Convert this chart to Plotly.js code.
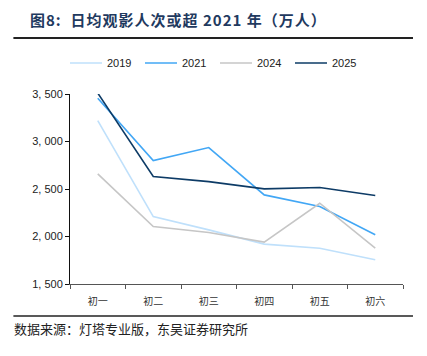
<!DOCTYPE html>
<html><head><meta charset="utf-8">
<script src="https://cdn.plot.ly/plotly-3.0.1.min.js"></script>
<style>body{margin:0;background:#fff}#c{width:427px;height:356px}</style>
</head><body><div id="c"></div>
<script>
const categories = ['初一','初二','初三','初四','初五','初六'];
const s2019 = [3220, 2210, 2070, 1920, 1877, 1755];
const s2021 = [3455, 2799, 2936, 2438, 2316, 2018];
const s2024 = [2659, 2105, 2042, 1941, 2350, 1877];
const s2025 = [3510, 2631, 2578, 2501, 2515, 2431];
const yTicks = [1500, 2000, 2500, 3000, 3500];
const yTickText = ['1, 500', '2, 000', '2, 500', '3, 000', '3, 500'];

const mk = (name, y, color) => ({x: categories, y: y, name: name, type: 'scatter', mode: 'lines',
  line: {color: color, width: 1.6}, cliponaxis: false});
const data = [
  mk('2019', s2019, '#BFE0FB'),
  mk('2021', s2021, '#42A7F5'),
  mk('2024', s2024, '#C6C6C6'),
  mk('2025', s2025, '#0D3B66')
];
const layout = {
  width: 427, height: 356,
  margin: {l: 70, r: 24, t: 94, b: 72},
  paper_bgcolor: '#fff', plot_bgcolor: '#fff',
  font: {family: 'Liberation Sans, Arial, sans-serif', color: '#222', size: 11},
  showlegend: true,
  legend: {orientation: 'h', x: -0.015, xanchor: 'left', y: 1.163, yanchor: 'middle',
    bgcolor: 'rgba(0,0,0,0)', font: {size: 11, color: '#222'}, itemwidth: 32,
    entrywidth: 28, entrywidthmode: 'pixels'},
  xaxis: {type: 'category', range: [-0.5, 5.5], showgrid: false, showline: true, linecolor: '#555', linewidth: 1.2,
    ticks: 'outside', ticklen: 4, tickcolor: '#555', tickson: 'boundaries', ticklabelstandoff: 8,
    tickfont: {family: 'Noto Sans CJK SC', size: 10, color: '#333'}, zeroline: false},
  yaxis: {range: [1500, 3500], tickvals: yTicks, ticktext: yTickText, showgrid: false,
    showline: true, linecolor: '#111', linewidth: 1, ticks: 'outside', ticklen: 4, tickcolor: '#111',
    tickfont: {size: 11, color: '#222'}, zeroline: false},
  shapes: [
    {type: 'line', xref: 'paper', yref: 'paper', x0: -0.17, x1: 1.03, y0: 1.295, y1: 1.295,
      line: {color: '#222', width: 2}},
    {type: 'line', xref: 'paper', yref: 'paper', x0: -0.17, x1: 1.03, y0: -0.168, y1: -0.168,
      line: {color: '#222', width: 1.5}}
  ],
  annotations: [
    {text: '<span style="letter-spacing:1px"><b>图8:  日均观影人次或超 2021 年（万人）</b></span>', xref: 'paper', yref: 'paper',
      x: -0.125, y: 1.39, xanchor: 'left', yanchor: 'middle', showarrow: false,
      font: {family: 'Noto Sans CJK SC', size: 15, color: '#1F3A5F'}},
    {text: '数据来源：灯塔专业版，东吴证券研究所', xref: 'paper', yref: 'paper',
      x: -0.175, y: -0.235, xanchor: 'left', yanchor: 'middle', showarrow: false,
      font: {family: 'Noto Sans CJK SC', size: 13, color: '#222'}}
  ]
};
Plotly.newPlot('c', data, layout, {displayModeBar: false, staticPlot: true});
</script></body></html>
